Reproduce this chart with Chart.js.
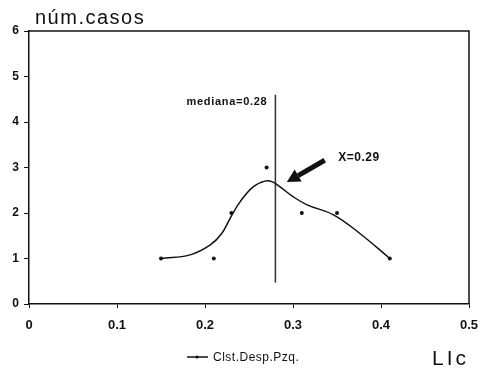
<!DOCTYPE html>
<html>
<head>
<meta charset="utf-8">
<script src="https://cdn.jsdelivr.net/npm/chart.js@4"></script>
<style>
  html, body { margin: 0; padding: 0; background: #fff; }
  #wrap { width: 479px; height: 368px; position: relative; }
</style>
</head>
<body>
<div id="wrap"><canvas id="chart" width="479" height="368"></canvas></div>
<script>
// observed cases
const caseX = [0.15, 0.21, 0.23, 0.27, 0.31, 0.35, 0.41];
const caseY = [1, 1, 2, 3, 2, 2, 1];

// fitted curve
const curveX = [0.15, 0.183, 0.206, 0.219, 0.229, 0.240, 0.255, 0.268, 0.276, 0.285, 0.300, 0.316, 0.346, 0.376, 0.41];
const curveY = [1.0, 1.08, 1.30, 1.55, 1.90, 2.25, 2.58, 2.70, 2.69, 2.58, 2.36, 2.18, 1.96, 1.55, 1.0];

// median line
const medianX = [0.28, 0.28];
const medianY = [0.47, 4.6];

const xTicks = [0, 0.1, 0.2, 0.3, 0.4, 0.5];
const yTicks = [0, 1, 2, 3, 4, 5, 6];

const seriesLabel = 'Clst.Desp.Pzq.';
const yTitle = 'núm.casos';
const xTitle = 'LIc';
const medianLabel = 'mediana=0.28';
const meanLabel = 'X=0.29';
// arrow tail / head in data units
const arrowFrom = [0.336, 3.16];
const arrowTo = [0.293, 2.68];

const FONT = '"Liberation Sans", Arial, sans-serif';

const toPts = (xs, ys) => xs.map((x, i) => ({ x: x, y: ys[i] }));

const extras = {
  id: 'extras',
  afterDraw(chart) {
    const c = chart.ctx;
    const a = chart.chartArea;
    const xs = chart.scales.x, ys = chart.scales.y;
    c.save();
    // box
    c.strokeStyle = '#111';
    c.lineWidth = 1.5;
    c.beginPath();
    c.moveTo(a.left, a.top);
    c.lineTo(a.right, a.top);
    c.lineTo(a.right, a.bottom);
    c.stroke();

    c.fillStyle = '#111';
    c.textBaseline = 'alphabetic';
    c.textAlign = 'left';
    c.font = '20px ' + FONT;
    c.letterSpacing = '1.5px';
    c.fillText(yTitle, 35, 24);
    c.font = '21px ' + FONT;
    c.letterSpacing = '3px';
    c.fillText(xTitle, 432, 365);

    c.textBaseline = 'middle';
    c.font = 'bold 11px ' + FONT;
    c.letterSpacing = '0.7px';
    c.textAlign = 'right';
    c.fillText(medianLabel, xs.getPixelForValue(0.28) - 8, ys.getPixelForValue(4.45));
    c.textAlign = 'left';
    c.font = 'bold 12px ' + FONT;
    c.letterSpacing = '0.5px';
    c.fillText(meanLabel, xs.getPixelForValue(0.3515), ys.getPixelForValue(3.22));

    // arrow
    const x1 = xs.getPixelForValue(arrowFrom[0]), y1 = ys.getPixelForValue(arrowFrom[1]);
    const x2 = xs.getPixelForValue(arrowTo[0]), y2 = ys.getPixelForValue(arrowTo[1]);
    const ang = Math.atan2(y2 - y1, x2 - x1);
    const hl = 13, hw = 7;
    const bx = x2 - hl * Math.cos(ang), by = y2 - hl * Math.sin(ang);
    c.strokeStyle = '#111';
    c.lineWidth = 5;
    c.beginPath();
    c.moveTo(x1, y1);
    c.lineTo(bx, by);
    c.stroke();
    c.beginPath();
    c.moveTo(x2, y2);
    c.lineTo(bx + hw * Math.sin(ang), by - hw * Math.cos(ang));
    c.lineTo(bx - hw * Math.sin(ang), by + hw * Math.cos(ang));
    c.closePath();
    c.fill();

    // legend
    c.lineWidth = 1.5;
    c.beginPath();
    c.moveTo(187, 357);
    c.lineTo(208, 357);
    c.stroke();
    c.beginPath();
    c.arc(197, 357, 1.6, 0, Math.PI * 2);
    c.fill();
    c.font = '12px ' + FONT;
    c.letterSpacing = '0.5px';
    c.fillText(seriesLabel, 213, 358);
    c.restore();
  }
};

new Chart(document.getElementById('chart'), {
  type: 'scatter',
  data: {
    datasets: [
      {
        label: seriesLabel,
        data: toPts(curveX, curveY),
        showLine: true,
        borderColor: '#111',
        borderWidth: 1.5,
        pointRadius: 0,
        tension: 0.4,
        fill: false
      },
      {
        label: 'casos',
        data: toPts(caseX, caseY),
        showLine: false,
        pointRadius: 2,
        pointBackgroundColor: '#111',
        pointBorderWidth: 0
      },
      {
        label: 'mediana',
        data: toPts(medianX, medianY),
        showLine: true,
        borderColor: '#333',
        borderWidth: 1.5,
        pointRadius: 0
      }
    ]
  },
  options: {
    responsive: false,
    animation: false,
    layout: { padding: { top: 31, right: 10, left: 0, bottom: 0 } },
    plugins: {
      legend: { display: false },
      tooltip: { enabled: false }
    },
    scales: {
      x: {
        type: 'linear',
        min: 0,
        max: 0.5,
        afterFit: (s) => { s.height = 64; s.paddingLeft = 0; s.paddingRight = 0; },
        afterBuildTicks: (s) => { s.ticks = xTicks.map(v => ({ value: v })); },
        border: { color: '#111', width: 1.5 },
        grid: { drawOnChartArea: false, drawTicks: true, tickLength: 4, color: '#111' },
        ticks: {
          color: '#111',
          padding: 10,
          maxRotation: 0,
          font: { family: FONT, size: 13, weight: 'bold' },
          callback: (v) => String(v)
        }
      },
      y: {
        min: 0,
        max: 6,
        afterFit: (s) => { s.width = 29; s.paddingTop = 0; s.paddingBottom = 0; },
        afterBuildTicks: (s) => { s.ticks = yTicks.map(v => ({ value: v })); },
        border: { color: '#111', width: 1.5 },
        grid: { drawOnChartArea: false, drawTicks: true, tickLength: 5, color: '#111' },
        ticks: {
          color: '#111',
          padding: 5,
          font: { family: FONT, size: 12, weight: 'bold' }
        }
      }
    }
  },
  plugins: [extras]
});
</script>
</body>
</html>
